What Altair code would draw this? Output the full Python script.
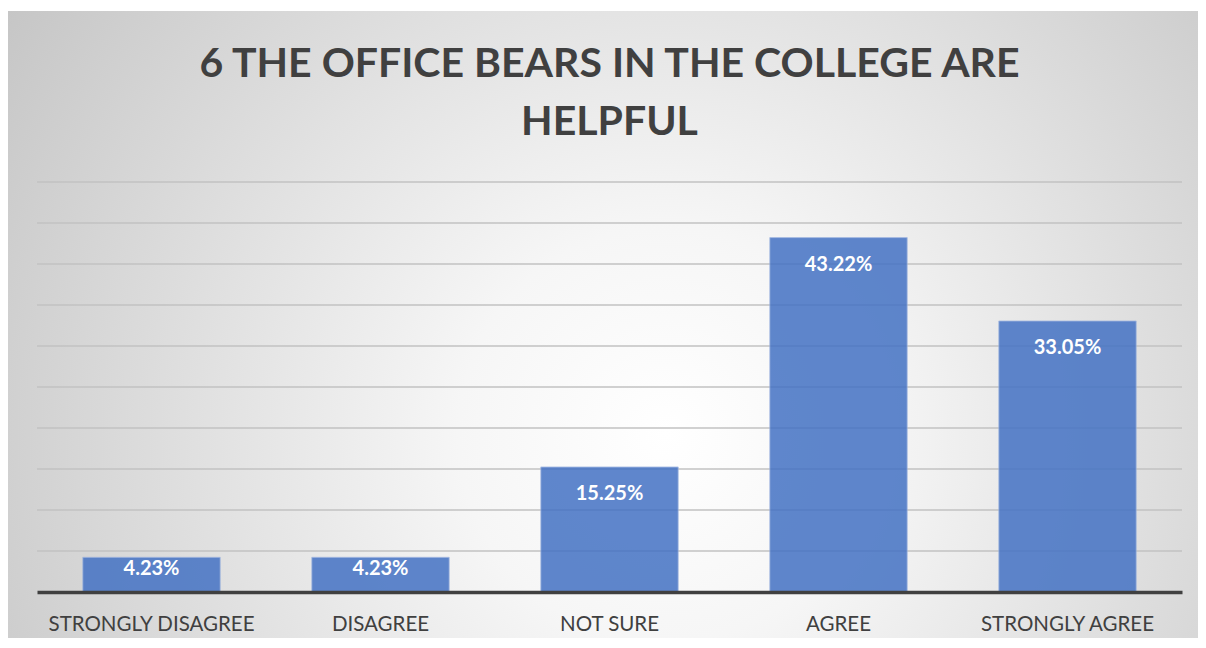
import altair as alt
import pandas as pd

categories = ["STRONGLY DISAGREE", "DISAGREE", "NOT SURE", "AGREE", "STRONGLY AGREE"]
values = [4.23, 4.23, 15.25, 43.22, 33.05]
labels = ["4.23%", "4.23%", "15.25%", "43.22%", "33.05%"]
grid_ticks = [0, 5, 10, 15, 20, 25, 30, 35, 40, 45, 50]
title_lines = ["6 THE OFFICE BEARS IN THE COLLEGE ARE", "HELPFUL"]

df = pd.DataFrame({"category": categories, "value": values, "label": labels})

W, H = 1145, 410
FONT = "Lato"

x_enc = alt.X("category:N", sort=categories,
              scale=alt.Scale(paddingInner=0.4, paddingOuter=0.2),
              axis=alt.Axis(title=None, labelAngle=0, labelFont=FONT, labelFontSize=20.5,
                            labelColor="#404040", ticks=False, labelPadding=22, labelLimit=400,
                            domainColor="#404040", domainWidth=3.5, grid=False, zindex=1))
y_scale = alt.Scale(domain=[0, 50], nice=False)

bg = alt.Chart(pd.DataFrame({"k": [0]})).mark_rect(
    fill=alt.Gradient(gradient="radial",
                      stops=[alt.GradientStop(color="#ffffff", offset=0),
                             alt.GradientStop(color="#f6f6f6", offset=0.25),
                             alt.GradientStop(color="#c2c2c2", offset=1)],
                      x1=0.54, y1=0.58, x2=0.54, y2=0.58, r1=0, r2=0.68)
).encode(x=alt.value(-30), x2=alt.value(1190), y=alt.value(-171), y2=alt.value(480))

title = alt.Chart(pd.DataFrame({"k": [0]})).mark_text(
    text=title_lines, font=FONT, fontSize=41, fontWeight="bold", color="#404040",
    align="center", baseline="alphabetic", lineHeight=58
).encode(x=alt.value(W / 2), y=alt.value(-105))

grid = alt.Chart(pd.DataFrame({"t": grid_ticks[1:]})).mark_rule(
    color="#c2c2c2", strokeWidth=1.3
).encode(y=alt.Y("t:Q", scale=y_scale, axis=None), x=alt.value(0), x2=alt.value(W))

bars = alt.Chart(df).mark_bar(color="#4472C4", opacity=0.85, stroke="#9bb3e0",
                              strokeWidth=1, strokeOpacity=0.8).encode(
    x=x_enc,
    y=alt.Y("value:Q", scale=y_scale, axis=None),
)

text = alt.Chart(df).transform_calculate(
    labpos="max(datum.value - 3.35, datum.value / 2 + 0.7)"
).mark_text(font=FONT, fontSize=20, fontWeight="bold", color="white",
            baseline="middle").encode(
    x=alt.X("category:N", sort=categories),
    y=alt.Y("labpos:Q", scale=y_scale, axis=None),
    text="label:N",
)

chart = alt.layer(bg, title, grid, bars, text).properties(
    width=W, height=H,
    autosize=alt.AutoSizeParams(type="none"),
    padding={"left": 29, "top": 174, "right": 16, "bottom": 46},
    background="white",
).configure_view(stroke=None)

chart.save("out.html", embed_options={"renderer": "svg", "actions": False})
